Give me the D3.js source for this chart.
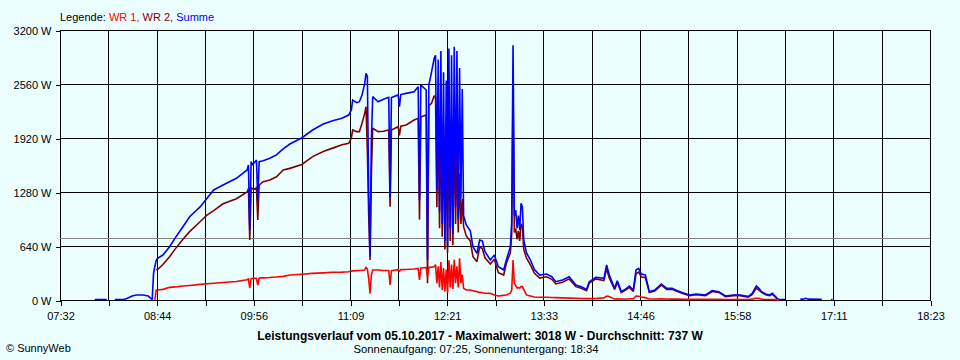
<!DOCTYPE html>
<html><head><meta charset="utf-8">
<script src="https://cdn.jsdelivr.net/npm/d3@7"></script>
<style>
html,body{margin:0;padding:0;background:#ecffff;}
svg{display:block;font-family:"Liberation Sans",Arial,sans-serif;font-size:11px;}
</style></head><body>
<svg id="chart" width="960" height="360"></svg>
<script>
// ---- data ----
const times = [
"07:58","08:07","08:08","08:13","08:20","08:22","08:24","08:26","08:29","08:34",
"08:38","08:40","08:41","08:42","08:43","08:44","08:45","08:49","08:54","08:58",
"09:04","09:09","09:17","09:22","09:27","09:34","09:44","09:52","09:53","09:54",
"09:55","09:56","09:57","09:59","10:00","10:01","10:04","10:09","10:14","10:19",
"10:24","10:33","10:41","10:49","10:56","11:03","11:08","11:10","11:11","11:14",
"11:16","11:18","11:20","11:21","11:22","11:23","11:24","11:25","11:26","11:30",
"11:34","11:38","11:39","11:40","11:45","11:46","11:47","11:51","11:57","12:00",
"12:01","12:02","12:06","12:07","12:08","12:10","12:12","12:13","12:14","12:15",
"12:16","12:17","12:18","12:19","12:20","12:21","12:22","12:23","12:24","12:25",
"12:26","12:27","12:28","12:29","12:30","12:31","12:32","12:33","12:34","12:36",
"12:39","12:41","12:44","12:46","12:48","12:50","12:54","12:57","13:00","13:04",
"13:06","13:09","13:10","13:11","13:12","13:13","13:14","13:15","13:16","13:17",
"13:18","13:19","13:21","13:24","13:27","13:31","13:36","13:40","13:43","13:48",
"13:53","13:58","14:02","14:06","14:08","14:13","14:19","14:21","14:23","14:25",
"14:27","14:29","14:32","14:36","14:38","14:41","14:43","14:45","14:47","14:50",
"14:53","14:57","15:02","15:06","15:10","15:14","15:18","15:23","15:28","15:35",
"15:40","15:45","15:50","15:56","16:01","16:05","16:07","16:10","16:12","16:13",
"16:15","16:17","16:20","16:23","16:25","16:27","16:29","16:30","16:35","16:36",
"16:46","16:48","16:50","16:52","17:02","17:03","17:09","17:10"];

const summe = [
6,6,null,6,6,18,32,47,59,59,
47,20,5,316,400,470,494,533,632,731,
869,987,1106,1205,1304,1363,1442,1541,1600,830,
1640,1600,1620,1660,1165,1640,1650,1679,1720,1790,
1849,1923,2015,2086,2125,2153,2192,2252,2370,2339,
2350,2430,2568,2686,2650,1264,520,1900,2410,2350,
2378,2402,1209,2400,2430,2291,2435,2449,2469,2528,
1185,2548,2489,474,2548,2700,2864,2900,1300,2850,
1050,2950,900,2700,700,2600,640,2980,850,2900,
780,3000,1100,2950,950,2750,1200,2500,1000,889,
820,632,553,711,700,573,474,533,395,356,
474,632,920,3018,1000,1067,850,1000,830,1146,
1100,711,560,474,360,296,308,276,217,237,
276,178,158,126,217,269,257,415,300,217,
138,229,99,138,166,118,356,375,308,296,
99,118,190,138,138,111,87,59,71,59,
111,99,47,59,59,47,40,79,138,166,
138,99,71,59,79,47,12,8,5,null,
10,10,20,10,8,null,5,5];

const wr2 = [
null,null,null,null,null,null,null,null,null,null,
null,null,null,null,null,355,360,420,513,600,
720,810,930,1007,1060,1140,1200,1280,1320,711,
1330,1320,1310,1330,948,1360,1402,1422,1461,1541,
1560,1607,1699,1760,1800,1840,1856,1916,2015,1995,
1995,2094,2212,2291,1758,1000,474,1500,2035,1995,
2000,2015,1106,2015,2054,1950,2060,2074,2133,2153,
950,2170,2192,200,2300,2331,2420,2400,1100,2300,
850,2200,750,2100,600,1900,560,2150,700,2000,
650,2150,900,1800,800,1500,900,1200,869,760,
700,514,454,632,610,500,427,482,324,296,
435,560,790,2469,800,850,720,820,700,900,
880,600,500,415,316,260,276,245,190,210,
250,158,140,110,200,250,230,370,260,195,
125,210,88,125,150,100,310,330,275,265,
88,105,175,125,126,100,78,52,63,52,
100,90,40,52,52,40,34,65,115,140,
118,90,63,52,70,40,8,5,null,null,
null,null,null,null,null,null,null,null];

const wr1 = [
null,null,null,null,null,null,null,null,null,null,
null,null,null,null,0,118,118,126,150,155,
165,172,185,192,198,208,220,240,250,142,
255,255,257,258,178,260,262,266,272,280,
296,305,315,322,328,330,335,340,345,348,
350,352,356,387,370,250,79,300,356,356,
350,350,178,347,360,340,360,362,368,375,
237,380,385,274,387,390,395,420,200,400,
150,450,120,380,100,360,80,470,150,420,
130,480,200,400,150,494,200,300,138,118,
118,110,99,90,85,80,79,60,47,55,
59,80,118,474,200,170,140,150,140,158,
158,126,60,47,35,32,32,30,28,25,
22,20,18,16,16,18,25,47,40,25,
12,15,12,12,14,15,47,45,35,28,
12,12,14,12,10,10,8,8,8,8,
8,8,6,6,6,6,6,10,20,20,
20,8,6,6,6,5,2,0,null,null,
null,null,null,null,null,null,null,null];

const xTickLabels = ["07:32","08:44","09:56","11:09","12:21","13:33","14:46","15:58","17:11","18:23"];
const yTickValues = [0,640,1280,1920,2560,3200];
const average = 737;
const legendItems = [
  {name:"WR 1", color:"#ff0000"},
  {name:"WR 2", color:"#800000"},
  {name:"Summe", color:"#0000ff"}
];
const titleText = "Leistungsverlauf vom 05.10.2017 - Maximalwert: 3018 W - Durchschnitt: 737 W";
const subtitleText = "Sonnenaufgang: 07:25, Sonnenuntergang: 18:34";
const creditText = "© SunnyWeb";

// ---- chart ----
const toMin = s => { const p = s.split(":"); return +p[0]*60 + +p[1]; };
const svg = d3.select("#chart");
const L = 60, R = 930, T = 30, B = 300;
const x = d3.scaleLinear().domain([toMin(xTickLabels[0]), toMin(xTickLabels[xTickLabels.length-1])]).range([L, R]);
const y = d3.scaleLinear().domain([0, 3200]).range([B, T]);

const d0 = x.domain()[0], d1 = x.domain()[1];
const tickPos = d3.range(19).map(i => d0 + i*(d1-d0)/18);

// grid
const grid = svg.append("g").attr("shape-rendering","crispEdges");
grid.selectAll(".v").data(tickPos).join("line")
  .attr("x1", d => Math.round(x(d))+0.5).attr("x2", d => Math.round(x(d))+0.5)
  .attr("y1", T).attr("y2", B).attr("stroke","#000");
grid.selectAll(".h").data(yTickValues).join("line")
  .attr("x1", L).attr("x2", R+1)
  .attr("y1", d => Math.round(y(d))+0.5).attr("y2", d => Math.round(y(d))+0.5).attr("stroke","#000");

// axes
const xAxis = d3.axisBottom(x).tickValues(tickPos).tickSize(5).tickPadding(7)
  .tickFormat((d,i) => i%2 ? "" : xTickLabels[i/2]);
const gx = svg.append("g").attr("transform",`translate(0.5,${Math.round(y(0))+0.5})`).call(xAxis);
const yAxis = d3.axisLeft(y).tickValues(yTickValues).tickSize(5).tickPadding(4).tickFormat(d => d + " W");
const gy = svg.append("g").attr("transform",`translate(${L+0.5},0.5)`).call(yAxis);
[gx, gy].forEach(g => {
  g.select(".domain").remove();
  g.attr("font-family", null).attr("font-size", null);
  g.selectAll("line").attr("stroke","#000").attr("shape-rendering","crispEdges");
  g.selectAll("text").attr("fill","#000");
});

// average line
svg.append("line").attr("x1", L).attr("x2", R).attr("shape-rendering","crispEdges")
  .attr("y1", Math.round(y(average))+0.5).attr("y2", Math.round(y(average))+0.5)
  .attr("stroke","#808080");

// series
const rows = times.map((t,i) => ({t: toMin(t), wr1: wr1[i], wr2: wr2[i], summe: summe[i]}));
const series = [
  {key:"wr2", color:"#800000"},
  {key:"summe", color:"#0000ff"},
  {key:"wr1", color:"#ff0000"}
];
series.forEach(s => {
  const line = d3.line().defined(d => d[s.key] != null)
    .x(d => x(d.t)).y(d => y(d[s.key]));
  svg.append("path").datum(rows).attr("d", line)
    .attr("fill","none").attr("stroke", s.color).attr("stroke-width", 1.6)
    .attr("stroke-linejoin","miter").attr("stroke-miterlimit", 2);
});

// legend
const lg = svg.append("text").attr("x", 60).attr("y", 21).attr("fill","#000");
lg.append("tspan").text("Legende: ");
legendItems.forEach((it, i) => {
  lg.append("tspan").attr("fill", it.color).text(it.name + (i < legendItems.length-1 ? ", " : ""));
});

// titles
svg.append("text").attr("x", 480).attr("y", 340).attr("text-anchor","middle")
  .attr("font-weight","bold").attr("font-size", "12px").attr("fill","#000").text(titleText);
svg.append("text").attr("x", 476).attr("y", 353).attr("text-anchor","middle")
  .attr("font-size", "11.3px").attr("fill","#000").text(subtitleText);
svg.append("text").attr("x", 6).attr("y", 352).attr("fill","#000").text(creditText);
</script>
</body></html>
